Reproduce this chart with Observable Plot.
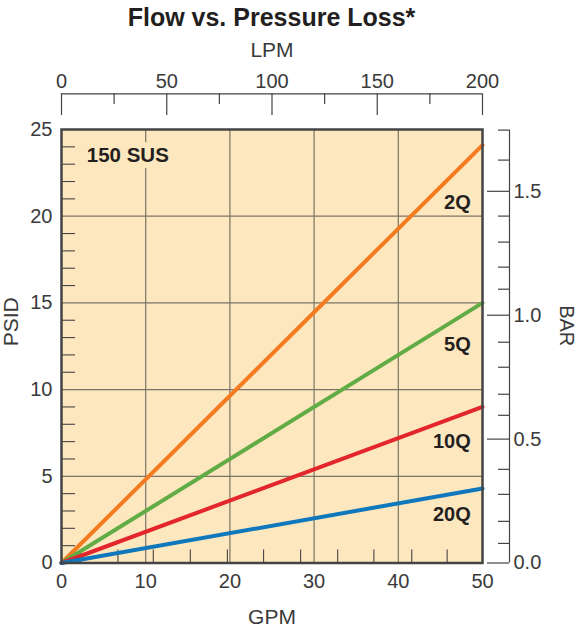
<!DOCTYPE html>
<html><head><meta charset="utf-8">
<script src="https://cdn.jsdelivr.net/npm/d3@7"></script>
<script src="https://cdn.jsdelivr.net/npm/@observablehq/plot@0.6"></script>
<style>
body{margin:0;background:#fff;font-family:"Liberation Sans",Arial,sans-serif;}
#title{height:36px;line-height:34px;margin-left:61px;width:421px;text-align:center;font-weight:bold;font-size:25px;color:#231f20;white-space:nowrap;}
</style></head><body>
<div id="title">Flow vs. Pressure Loss*</div>
<div id="chart"></div>
<script>
// ---- data ----
const gpm = [0, 50];
const series = ["2Q", "5Q", "10Q", "20Q"];
const psid2Q = [0, 24.1];
const psid5Q = [0, 15.0];
const psid10Q = [0, 9.0];
const psid20Q = [0, 4.3];
const seriesColors = ["#f47b20", "#62ac46", "#e3262b", "#0f77bc"];
const labelGpm = [48.6, 48.6, 48.6, 48.6];
const labelPsid = [20.8, 12.6, 7.0, 2.8];
const noteText = ["150 SUS"];
const noteGpm = [3.0];
const notePsid = [23.5];
const gpmTicks = [0, 10, 20, 30, 40, 50];
const gpmGrid = [10, 20, 30, 40];
const gpmInnerTicks = [2.3, 6.7, 10.9, 15.3, 19.7, 24.0, 28.4, 32.8, 37.1, 41.6, 45.8];
const psiTicks = [0, 5, 10, 15, 20, 25];
const psiGrid = [5, 10, 15, 20];
const psiMinor = [1,2,3,4,6,7,8,9,11,12,13,14,16,17,18,19,21,22,23,24];
const lpmTicks = [0, 50, 100, 150, 200];
const lpmMinor = [25, 75, 125, 175];
const barTicks = [0, 0.5, 1.0, 1.5];
const barMinor = [0.079, 0.168, 0.277, 0.378, 0.596, 0.681, 0.790, 0.891, 1.105, 1.194, 1.295, 1.40, 1.626, 1.747];
const barAxisTop = 1.747;
const PSI_PER_BAR = 14.29;
const LPM_PER_GPM = 4;
const GPM_MAX = 50, PSI_MAX = 25;

// ---- table ----
const seriesValues = [psid2Q, psid5Q, psid10Q, psid20Q];
const rows = series.flatMap((s, i) => gpm.map((g, j) => ({series: s, gpm: g, psid: seriesValues[i][j]})));
const labels = series.map((s, i) => ({series: s, gpm: labelGpm[i], psid: labelPsid[i]}));
const notes = noteText.map((t, i) => ({text: t, gpm: noteGpm[i], psid: notePsid[i]}));

const bg = "#fde7bf";
const gridColor = "#7a7466";
const axisColor = "#444";
const textColor = "#3a3a3a";
const fs = 20;

const chart = Plot.plot({
  width: 579, height: 599,
  marginLeft: 61, marginRight: 97, marginTop: 93, marginBottom: 72.5,
  x: {domain: [0, GPM_MAX], axis: null},
  y: {domain: [0, PSI_MAX], axis: null},
  color: {domain: series, range: seriesColors},
  style: {fontFamily: "Liberation Sans, Arial, sans-serif", color: textColor, background: "white", overflow: "visible"},
  marks: [
    Plot.frame({fill: bg, stroke: null}),
    Plot.ruleX(gpmGrid, {stroke: gridColor, strokeWidth: 1.2}),
    Plot.ruleY(psiGrid, {stroke: gridColor, strokeWidth: 1.2}),
    Plot.ruleY(psiMinor, {x1: 0, x2: 0, insetRight: -14, stroke: axisColor, strokeWidth: 1.1}),
    Plot.ruleX(gpmInnerTicks, {y1: 0, y2: 0, insetTop: -13, stroke: axisColor, strokeWidth: 1.1}),
    Plot.text(notes, {x: "gpm", y: "psid", text: "text", textAnchor: "start", fontSize: 20.5, fontWeight: "bold", fill: "#231f20", stroke: bg, strokeWidth: 12}),
    Plot.line(rows, {x: "gpm", y: "psid", z: "series", stroke: "series", strokeWidth: 4}),
    Plot.text(labels, {x: "gpm", y: "psid", text: "series", textAnchor: "end", fontSize: 20, fontWeight: "bold", fill: "#231f20"}),
    Plot.frame({stroke: axisColor, strokeWidth: 2.5}),
    // left axis labels
    Plot.text(psiTicks, {y: d => d, frameAnchor: "left", dx: -9, textAnchor: "end", fontSize: fs, text: d => d}),
    Plot.text(["PSID"], {frameAnchor: "left", dx: -50, rotate: -90, fontSize: 21}),
    // bottom axis labels
    Plot.text(gpmTicks, {x: d => d, frameAnchor: "bottom", lineAnchor: "middle", dy: 18.5, fontSize: fs, text: d => d}),
    Plot.text(["GPM"], {frameAnchor: "bottom", lineAnchor: "middle", dy: 54.5, fontSize: 21}),
    // top LPM axis
    Plot.ruleY([PSI_MAX], {dy: -35.7, stroke: axisColor, strokeWidth: 1.2}),
    Plot.ruleX(lpmTicks, {x: l => l / LPM_PER_GPM, y1: () => PSI_MAX, y2: () => PSI_MAX, insetTop: -35.7, insetBottom: 14, stroke: axisColor, strokeWidth: 1.2}),
    Plot.ruleX(lpmMinor, {x: l => l / LPM_PER_GPM, y1: () => PSI_MAX, y2: () => PSI_MAX, insetTop: -35.7, insetBottom: 25, stroke: axisColor, strokeWidth: 1.2}),
    Plot.text(lpmTicks, {x: l => l / LPM_PER_GPM, frameAnchor: "top", lineAnchor: "middle", dy: -47.5, fontSize: fs, text: d => d}),
    Plot.text(["LPM"], {frameAnchor: "top", lineAnchor: "middle", dy: -79.5, fontSize: 21}),
    // right BAR axis
    Plot.ruleX([GPM_MAX], {y1: () => 0, y2: () => barAxisTop * PSI_PER_BAR, dx: 27, stroke: axisColor, strokeWidth: 1.2}),
    Plot.ruleY(barTicks, {y: b => b * PSI_PER_BAR, x1: () => GPM_MAX, x2: () => GPM_MAX, insetLeft: 5, insetRight: -27, stroke: axisColor, strokeWidth: 1.2}),
    Plot.ruleY(barMinor, {y: b => b * PSI_PER_BAR, x1: () => GPM_MAX, x2: () => GPM_MAX, insetLeft: 16, insetRight: -27, stroke: axisColor, strokeWidth: 1.2}),
    Plot.text(barTicks, {y: b => b * PSI_PER_BAR, frameAnchor: "right", dx: 31, textAnchor: "start", fontSize: fs, text: b => b.toFixed(1)}),
    Plot.text(["BAR"], {frameAnchor: "right", dx: 84, rotate: 90, fontSize: 20})
  ]
});
document.getElementById("chart").appendChild(chart);
</script>
</body></html>
